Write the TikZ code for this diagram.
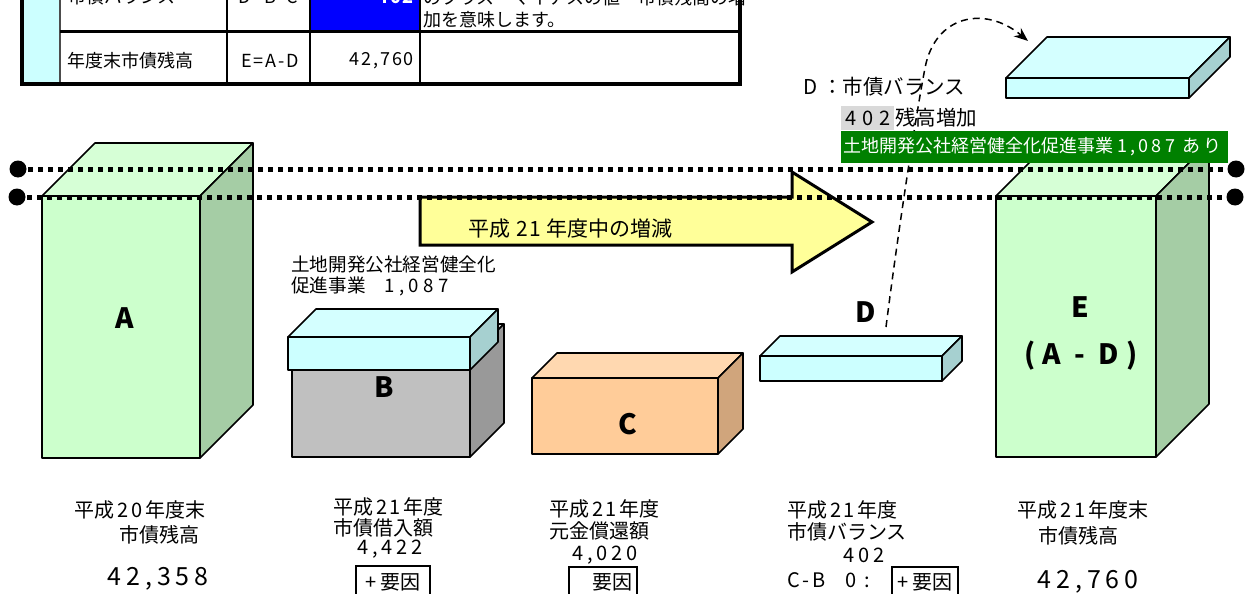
\documentclass[tikz,border=0pt]{standalone}
\usepackage{fontspec}
\setmainfont{Noto Sans CJK JP}
\usetikzlibrary{arrows.meta}
\definecolor{gF}{HTML}{CCFFCC}
\definecolor{gT}{HTML}{D6FFD6}
\definecolor{gS}{HTML}{A5CDA5}
\definecolor{cF}{HTML}{CCFFFF}
\definecolor{cT}{HTML}{D4FFFF}
\definecolor{cS}{HTML}{A6D0D0}
\definecolor{kF}{HTML}{C0C0C0}
\definecolor{kT}{HTML}{D0D0D0}
\definecolor{kS}{HTML}{999999}
\definecolor{oF}{HTML}{FFCC99}
\definecolor{oT}{HTML}{FFD8B0}
\definecolor{oS}{HTML}{D0A57C}
\definecolor{arrY}{HTML}{FFFF99}
\definecolor{banner}{HTML}{008000}
\definecolor{greybg}{HTML}{D9D9D9}
\definecolor{cellblue}{HTML}{0000FF}
\newcommand{\myfs}[1]{\fontsize{#1}{#1}\selectfont}
\newcommand{\dg}[1]{\hspace{3pt}{\addfontfeature{LetterSpace=12}#1}\hspace{3pt}}
\newcommand{\cuboid}[8]{%
  \filldraw[boxline,fill=#6] (#1,#2) rectangle ++(#3,#4);
  \filldraw[boxline,fill=#7] (#1,#2) -- ++(#5,-#5) -- ++(#3,0) -- ++(-#5,#5) -- cycle;
  \filldraw[boxline,fill=#8] ({#1+#3},#2) -- ++(#5,-#5) -- ++(0,#4) -- ++(-#5,#5) -- cycle;}
\tikzset{
  boxline/.style={draw=black,line width=1.6pt,line join=round},
  dotline/.style={line width=5pt,dash pattern=on 5pt off 5pt},
  lbl/.style={inner sep=0pt,font={\myfs{18}}},
  captxt/.style={inner sep=0pt,font={\myfs{20}}},
  big/.style={inner sep=0pt,font={\myfs{28}\bfseries}},
  num/.style={inner sep=0pt,font={\myfs{25}\addfontfeature{LetterSpace=20}}},
  snum/.style={inner sep=0pt,font={\myfs{20}\addfontfeature{LetterSpace=20}}},
  factor/.style={draw=black,line width=1.6pt},
}
\begin{document}
\begin{tikzpicture}[x=1pt,y=-1pt]
\useasboundingbox (0,0) rectangle (1245,594);
\clip (0,0) rectangle (1245,594);
% ---------- table ----------
\fill[cF] (22,-10) rectangle (60,84);
\fill[cellblue] (310,-10) rectangle (420,32);
\draw[line width=1.2pt,black!70] (60,-10) -- (60,84);
\draw[line width=2pt] (227,-10) -- (227,84) (310,-10) -- (310,84) (420,-10) -- (420,84);
\draw[line width=3pt] (60,32) -- (740,32);
\draw[line width=4pt] (22,-10) -- (22,84) -- (740,84) -- (740,-10);
\node[lbl,anchor=west] (t1) at (68,-3) {市債バランス};
\node[lbl,anchor=center] (t2) at (268,-3) {\addfontfeature{LetterSpace=10}D=B-C};
\node[lbl,anchor=east,text=white] (t3) at (414,-3) {\bfseries\addfontfeature{LetterSpace=10}402};
\node[lbl,anchor=west] (t4) at (423,-2) {のプラス・マイナスの値＝市債残高の増};
\node[lbl,anchor=west] (t5) at (423,20) {加を意味します。};
\node[lbl,anchor=west] (t6) at (67,61) {年度末市債残高};
\node[lbl,anchor=center] (t7) at (270,61) {\addfontfeature{LetterSpace=10}E=A-D};
\node[lbl,anchor=east] (t8) at (414,61) {\addfontfeature{LetterSpace=10}42,760};
% ---------- boxes ----------
\cuboid{42}{196}{158}{262}{53}{gF}{gT}{gS}
\cuboid{996}{196}{160}{261}{53}{gF}{gT}{gS}
\cuboid{292}{358}{178}{99}{34}{kF}{kT}{kS}
\cuboid{288}{337}{182}{33}{28}{cF}{cT}{cS}
\cuboid{532}{378}{186}{76}{25}{oF}{oT}{oS}
\cuboid{760}{356}{182}{25}{20}{cF}{cT}{cS}
\cuboid{1006}{78}{183}{20}{41}{cF}{cT}{cS}
\node[big] (la) at (125,318) {A};
\node[big] (lb) at (384,387) {B};
\node[big] (lc) at (628,424) {C};
\node[big] (ld) at (866,312) {D};
\node[big] (le) at (1080,307) {E};
\node[big] (lad) at (1081,356) {\addfontfeature{LetterSpace=25}(A - D)};
% ---------- yellow arrow ----------
\filldraw[fill=arrY,draw=black,line width=3pt,line join=miter]
  (420,197) -- (792,197) -- (792,172) -- (872,222) -- (792,272) -- (792,245) -- (420,245) -- cycle;
\node[lbl,anchor=west,font={\myfs{21}}] (arrtxt) at (468,229) {平成\hspace{6pt}{\addfontfeature{LetterSpace=8}21}\hspace{5pt}年度中の増減};
% ---------- dotted lines ----------
\draw[dotline] (18,169) -- (1235,169);
\draw[dotline] (17,197) -- (1234,197);
\fill (18,169) circle (8.5) (17,197) circle (8.5) (1236,169) circle (8.5) (1235,197) circle (8.5);
% ---------- B caption ----------
\node[lbl,anchor=west,font={\myfs{18.6}}] (bc1) at (291,264) {土地開発公社経営健全化};
\node[lbl,anchor=west,font={\myfs{18.6}}] (bc2) at (291,286) {促進事業　\addfontfeature{LetterSpace=25}1,087};
% ---------- dashed curve ----------
\coordinate (dstart) at (886,327);
\coordinate (dmid) at (925,68);
\coordinate (dend) at (1028,41);
\draw[line width=1.5pt,dash pattern=on 7pt off 5pt,-{Stealth[length=14pt,width=11pt]}]
  (dstart) .. controls (897,240) and (915,120) .. (dmid) .. controls (935,15) and (985,5) .. (dend);
% ---------- upper-right labels ----------
\node[lbl,anchor=west,font={\myfs{20.5}}] (dlab) at (803,87) {D\hspace{5pt}：市債バランス};
\fill[greybg] (841,106) rectangle (894,130);
\node[snum,font={\myfs{20}\addfontfeature{LetterSpace=30}}] (d402) at (868,118) {402};
\node[lbl,anchor=west,font={\myfs{20.5}}] (dinc) at (895,118) {残高増加};
\fill[banner] (841,131) rectangle (1228,163);
\node[lbl,anchor=west,text=white,font={\myfs{18}}] (bantxt) at (843,147) {土地開発公社経営健全化促進事業 \addfontfeature{LetterSpace=18}1,087 あり};
% ---------- bottom captions ----------
\node[captxt] (a1) at (140,510) {平成\dg{20}年度末};
\node[captxt] (a2) at (159,535) {市債残高};
\node[num] (a3) at (158,579) {42,358};
\node[captxt,anchor=west] (b1) at (333,507) {平成\dg{21}年度};
\node[captxt,anchor=west] (b2) at (333,528) {市債借入額};
\node[snum] (b3) at (390,549) {4,422};
\draw[factor] (356,566) rectangle (430,600);
\node[captxt] (b4) at (393,582) {+ 要因};
\node[captxt,anchor=west] (c1) at (549,509) {平成\dg{21}年度};
\node[captxt,anchor=west] (c2) at (549,531) {元金償還額};
\node[snum] (c3) at (605,555) {4,020};
\draw[factor] (569,567) rectangle (637,600);
\node[captxt,anchor=east] (c4) at (633,582) {要因};
\node[captxt,anchor=west] (d1) at (787,510) {平成\dg{21}年度};
\node[captxt,anchor=west] (d2) at (787,532) {市債バランス};
\node[snum] (d3) at (864,555) {402};
\node[captxt,anchor=west] (d4) at (787,580) {\addfontfeature{LetterSpace=15}C-B\hspace{20pt}0\hspace{8pt}:};
\draw[factor] (892,567) rectangle (958,600);
\node[captxt] (d5) at (925,582) {+ 要因};
\node[captxt] (e1) at (1083,510) {平成\dg{21}年度末};
\node[captxt] (e2) at (1078,536) {市債残高};
\node[num] (e3) at (1088,582) {42,760};
\end{tikzpicture}
\end{document}
